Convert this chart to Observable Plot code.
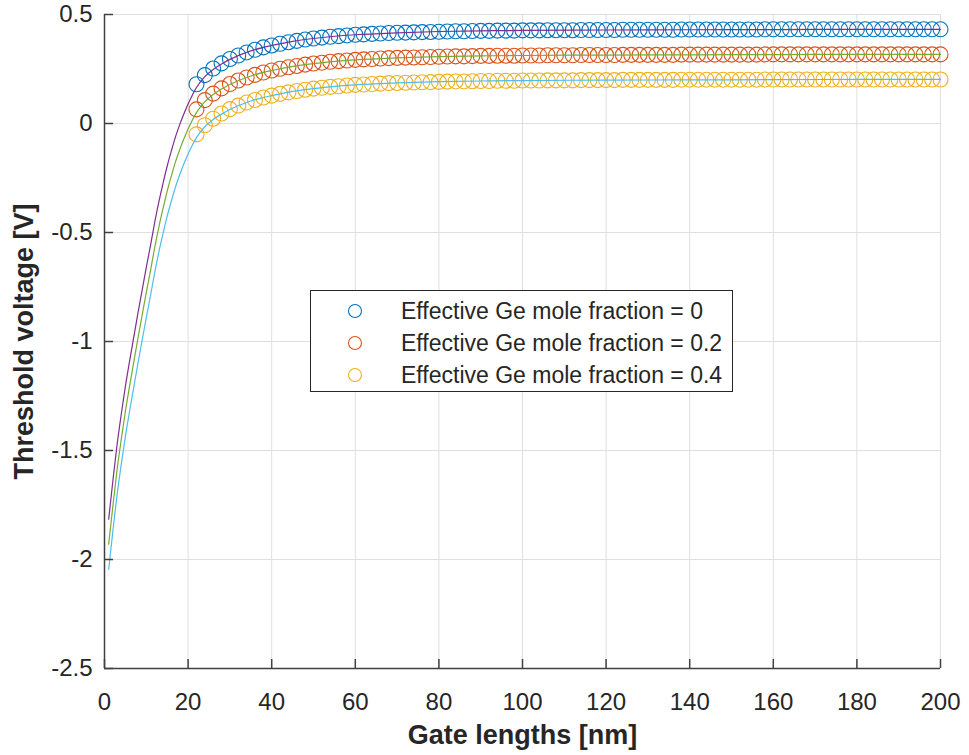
<!DOCTYPE html>
<html><head><meta charset="utf-8">
<script src="https://cdn.jsdelivr.net/npm/d3@7"></script>
<script src="https://cdn.jsdelivr.net/npm/@observablehq/plot@0.6"></script>
<style>
body{margin:0;background:#fff;}
#wrap{position:relative;width:969px;height:755px;font-family:"Liberation Sans",Arial,Helvetica,sans-serif;}
#legend{position:absolute;left:310px;top:290px;width:423px;height:102px;border:1.5px solid #262626;background:#fff;box-sizing:border-box;}
.row{position:absolute;left:0;height:30px;display:flex;align-items:center;font-size:23px;color:#262626;white-space:nowrap;}
.row svg{margin-left:36px;margin-right:38px;}
</style></head><body><div id="wrap"></div>
<script>
const xTicks = [0, 20, 40, 60, 80, 100, 120, 140, 160, 180, 200];
const yTicks = [-2.5, -2, -1.5, -1, -0.5, 0, 0.5];
const seriesNames = ["Effective Ge mole fraction = 0", "Effective Ge mole fraction = 0.2", "Effective Ge mole fraction = 0.4"];
const markerColors = ["#0072BD", "#D95319", "#EDB120"];
const lineColors = ["#7E2F8E", "#77AC30", "#4DBEEE"];

const gateLengths = [22,24,26,28,30,32,34,36,38,40,
42,44,46,48,50,52,54,56,58,60,
62,64,66,68,70,72,74,76,78,80,
82,84,86,88,90,92,94,96,98,100,
102,104,106,108,110,112,114,116,118,120,
122,124,126,128,130,132,134,136,138,140,
142,144,146,148,150,152,154,156,158,160,
162,164,166,168,170,172,174,176,178,180,
182,184,186,188,190,192,194,196,198,200];

const vthGe0 = [0.180,0.222,0.252,0.276,0.296,0.312,0.326,0.338,0.349,0.358,
0.366,0.373,0.379,0.385,0.390,0.394,0.398,0.401,0.404,0.407,
0.409,0.411,0.413,0.415,0.416,0.417,0.418,0.419,0.420,0.421,
0.422,0.423,0.423,0.424,0.425,0.425,0.426,0.426,0.426,0.427,
0.427,0.427,0.428,0.428,0.428,0.428,0.429,0.429,0.429,0.429,
0.429,0.430,0.430,0.430,0.430,0.430,0.430,0.430,0.431,0.431,
0.431,0.431,0.431,0.431,0.431,0.431,0.431,0.431,0.432,0.432,
0.432,0.432,0.432,0.432,0.432,0.432,0.432,0.432,0.432,0.432,
0.432,0.432,0.432,0.432,0.432,0.432,0.432,0.432,0.432,0.432];

const vthGe02 = [0.065,0.107,0.137,0.161,0.181,0.197,0.211,0.223,0.234,0.243,
0.251,0.258,0.264,0.270,0.275,0.279,0.283,0.286,0.289,0.292,
0.294,0.296,0.298,0.300,0.301,0.302,0.303,0.304,0.305,0.306,
0.307,0.308,0.308,0.309,0.310,0.310,0.311,0.311,0.311,0.312,
0.312,0.312,0.313,0.313,0.313,0.313,0.314,0.314,0.314,0.314,
0.314,0.315,0.315,0.315,0.315,0.315,0.315,0.315,0.316,0.316,
0.316,0.316,0.316,0.316,0.316,0.316,0.316,0.316,0.317,0.317,
0.317,0.317,0.317,0.317,0.317,0.317,0.317,0.317,0.317,0.317,
0.317,0.317,0.317,0.317,0.317,0.317,0.317,0.317,0.317,0.317];

const vthGe04 = [-0.050,-0.008,0.022,0.046,0.066,0.082,0.096,0.108,0.119,0.128,
0.136,0.143,0.149,0.155,0.160,0.164,0.168,0.171,0.174,0.177,
0.179,0.181,0.183,0.185,0.186,0.187,0.188,0.189,0.190,0.191,
0.192,0.193,0.193,0.194,0.195,0.195,0.196,0.196,0.196,0.197,
0.197,0.197,0.198,0.198,0.198,0.198,0.199,0.199,0.199,0.199,
0.199,0.200,0.200,0.200,0.200,0.200,0.200,0.200,0.201,0.201,
0.201,0.201,0.201,0.201,0.201,0.201,0.201,0.201,0.202,0.202,
0.202,0.202,0.202,0.202,0.202,0.202,0.202,0.202,0.202,0.202,
0.202,0.202,0.202,0.202,0.202,0.202,0.202,0.202,0.202,0.202];

const fitLengths = [1,2,3,4,5,6,7,8,9,10,11,12,13,14,15,16,17,18,19,20,21,22,
24,26,28,30,35,40,45,50,60,70,80,90,100,120,140,160,180,200];

const fitGe0 = [-1.815,-1.64,-1.475,-1.335,-1.205,-1.09,-0.98,-0.87,-0.765,-0.66,
-0.56,-0.455,-0.36,-0.275,-0.195,-0.125,-0.06,-0.005,0.045,0.09,
0.13,0.165,
0.215,0.248,0.273,0.294,0.333,0.358,0.377,0.39,0.407,0.416,0.422,0.425,0.427,0.429,0.43,0.431,0.432,0.432];

const fitGe02 = [-1.93,-1.755,-1.59,-1.45,-1.32,-1.205,-1.095,-0.985,-0.88,-0.775,
-0.675,-0.57,-0.475,-0.39,-0.31,-0.24,-0.175,-0.12,-0.07,-0.025,
0.015,0.05,
0.1,0.133,0.158,0.179,0.218,0.243,0.262,0.275,0.292,0.301,0.307,0.31,0.312,0.314,0.315,0.316,0.317,0.317];

const fitGe04 = [-2.045,-1.87,-1.705,-1.565,-1.435,-1.32,-1.21,-1.1,-0.995,-0.89,
-0.79,-0.685,-0.59,-0.505,-0.425,-0.355,-0.29,-0.235,-0.185,-0.14,
-0.1,-0.065,
-0.015,0.018,0.043,0.064,0.103,0.128,0.147,0.16,0.177,0.186,0.192,0.195,0.197,0.199,0.2,0.201,0.202,0.202];

const markerSeries = [vthGe0, vthGe02, vthGe04];
const fitSeries = [fitGe0, fitGe02, fitGe04];

const markerMarks = markerSeries.map((vals, s) =>
  Plot.dot(gateLengths.map((L, i) => ({L, V: vals[i]})), {x: "L", y: "V", r: 7.5, stroke: markerColors[s], strokeWidth: 1.1, fill: "none"}));
const lineMarks = fitSeries.map((vals, s) =>
  Plot.line(fitLengths.map((L, i) => ({L, V: vals[i]})), {x: "L", y: "V", stroke: lineColors[s], strokeWidth: 1.2, curve: "monotone-x"}));

const fmt = d => String(d);
const chart = Plot.plot({
  width: 969, height: 755,
  marginLeft: 104, marginRight: 29, marginTop: 14, marginBottom: 87,
  style: {fontFamily: '"Liberation Sans", Arial, Helvetica, sans-serif', fontSize: "24px", color: "#262626", background: "#fff"},
  x: {domain: [0, 200]},
  y: {domain: [-2.5, 0.5]},
  marks: [
    Plot.gridX(xTicks, {stroke: "#dfdfdf", strokeOpacity: 1}),
    Plot.gridY(yTicks, {stroke: "#dfdfdf", strokeOpacity: 1}),
    ...markerMarks,
    ...lineMarks,
    Plot.axisX(xTicks, {tickSize: -9, tickPadding: 33, label: null, tickFormat: fmt, stroke: "#404040", strokeWidth: 1.5, fill: "#262626", fontSize: 24}),
    Plot.axisY(yTicks, {tickSize: -9, tickPadding: 21, label: null, tickFormat: fmt, stroke: "#404040", strokeWidth: 1.5, fill: "#262626", fontSize: 24}),
    Plot.ruleX([0], {stroke: "#404040", strokeWidth: 1.5}),
    Plot.ruleY([-2.5], {stroke: "#404040", strokeWidth: 1.5}),
    Plot.text(["Gate lengths [nm]"], {frameAnchor: "bottom", lineAnchor: "middle", textAnchor: "middle", dy: 67, fontWeight: "bold", fontSize: 27, fill: "#262626"}),
    Plot.text(["Threshold voltage [V]"], {frameAnchor: "left", textAnchor: "middle", lineAnchor: "middle", rotate: -90, dx: -80, fontWeight: "bold", fontSize: 27, fill: "#262626"})
  ]
});
const wrap = document.getElementById("wrap");
wrap.appendChild(chart);

const legend = document.createElement("div");
legend.id = "legend";
const rowCenters = [20, 52, 84];
seriesNames.forEach((name, s) => {
  const row = document.createElement("div");
  row.className = "row";
  row.style.top = (rowCenters[s] - 15) + "px";
  row.innerHTML = `<svg width="16" height="16"><circle cx="8" cy="8" r="6.5" fill="none" stroke="${markerColors[s]}" stroke-width="1.1"/></svg><span>${name}</span>`;
  legend.appendChild(row);
});
wrap.appendChild(legend);
</script></body></html>
